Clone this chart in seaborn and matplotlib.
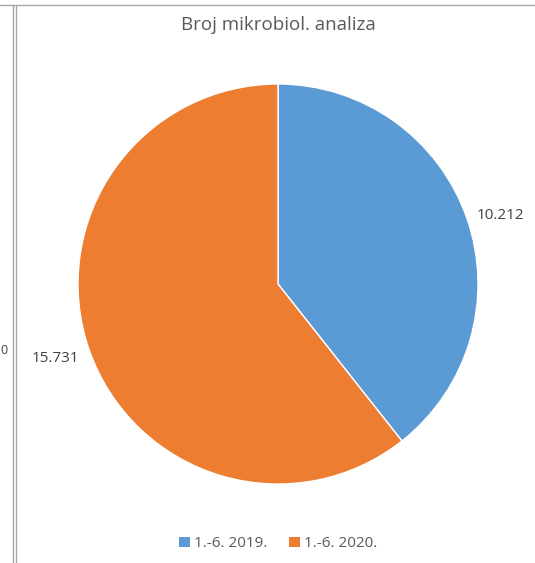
import matplotlib
matplotlib.use("Agg")
import matplotlib.pyplot as plt
from matplotlib.patches import Patch
from matplotlib.lines import Line2D
import seaborn as sns

# data
periods = ["1.-6. 2019.", "1.-6. 2020."]
counts = [10212, 15731]
count_labels = ["10.212", "15.731"]
colors = ["#5B9BD5", "#ED7D31"]

sns.set_theme(style="white")
plt.rcParams["font.family"] = ["Open Sans", "DejaVu Sans"]
text_col = "#595959"

fig = plt.figure(figsize=(5.35, 5.63), dpi=100)
ax = fig.add_axes([0.1458, 0.1403, 0.7477, 0.7105])

wedges, texts = ax.pie(
    counts,
    labels=count_labels,
    colors=sns.color_palette(colors),
    startangle=90,
    counterclock=False,
    labeldistance=1.05,
    radius=1.0,
    wedgeprops=dict(edgecolor="white", linewidth=1),
    textprops=dict(color="#404040", fontsize=11),
)
# orange label sits a little lower in the reference
x, y = texts[1].get_position()
texts[1].set_position((x, y - 0.03))
ax.set_xlim(-1, 1)
ax.set_ylim(-1, 1)
ax.set_aspect("auto")
ax.axis("off")

fig.text(0.52, 0.955, "Broj mikrobiol. analiza", ha="center", va="center",
         fontsize=13.5, color=text_col)

handles = [Patch(facecolor=c, edgecolor="none") for c in colors]
fig.legend(handles, periods, loc="center", bbox_to_anchor=(0.52, 0.034), ncol=2,
           frameon=False, handlelength=0.7, handleheight=0.7, handletextpad=0.3,
           columnspacing=1.4, prop=dict(size=11), labelcolor=text_col)

# chart frame remnants (cropped screenshot)
for x in (13 / 535, 15.5 / 535):
    fig.add_artist(Line2D([x, x], [0, 1 - 5 / 563], color="#A6A6A6", lw=1.0,
                          transform=fig.transFigure))
fig.add_artist(Line2D([0, 1], [1 - 5 / 563, 1 - 5 / 563], color="#A6A6A6", lw=1.0,
                      transform=fig.transFigure))
fig.text(0.0, 1 - 350 / 563, "0", ha="left", va="center", fontsize=9,
         color="#404040")

fig.savefig("out.png", dpi=100, facecolor="white")
